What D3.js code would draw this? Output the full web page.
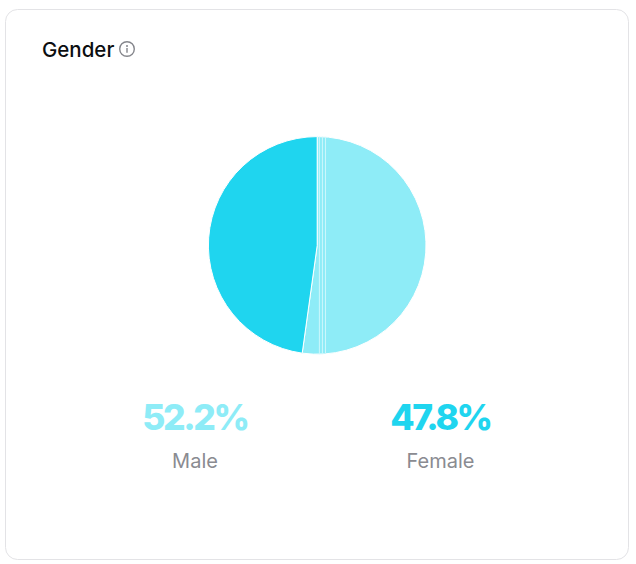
<!DOCTYPE html>
<html>
<head>
<meta charset="utf-8">
<script src="https://cdnjs.cloudflare.com/ajax/libs/d3/7.8.5/d3.min.js"></script>
<style>
html, body { margin: 0; padding: 0; background: #fff; }
svg { display: block; }
</style>
</head>
<body>
<svg id="chart" width="636" height="564"></svg>
<script>
// data
const categories = ['Male', 'Female'];
const shares = [52.2, 47.8];
const labels = ['52.2%', '47.8%'];
const colors = ['#8eecf7', '#1fd5ef'];
// thin lighter bands inside the male slice, as % of the pie's width from the centre line
const bandOffsets = [1, 2.4, 3.8];

const W = 636, H = 564, R = 108.8, CX = 317.2, CY = 245.4;
var svg = d3.select('#chart');

// card
svg.append('rect')
	.attr('x', 5.5).attr('y', 9.5)
	.attr('width', 623).attr('height', 550)
	.attr('rx', 12)
	.style('fill', '#fff')
	.style('stroke', '#e3e3e6');

// title + info icon
svg.append('text')
	.attr('x', 42).attr('y', 57)
	.text('Gender')
	.style('font-family', 'Inter')
	.style('font-weight', 500)
	.style('font-size', '20.5px')
	.style('fill', '#0c0e10');

var info = svg.append('g').attr('transform', 'translate(127,49)');
info.append('circle').attr('r', 7.3).style('fill', 'none').style('stroke', '#85868c').style('stroke-width', 1.4);
info.append('circle').attr('cy', -3).attr('r', 1).style('fill', '#85868c');
info.append('line').attr('y1', -1).attr('y2', 3.8).style('stroke', '#85868c').style('stroke-width', 1.4);

// pie
var pie = d3.pie().sort(null).value(function(d) { return d; });
var arc = d3.arc().innerRadius(0).outerRadius(R);
var g = svg.append('g').attr('transform', 'translate(' + CX + ',' + CY + ')');

g.selectAll('path.slice')
	.data(pie(shares))
	.enter()
	.append('path')
	.attr('class', 'slice')
	.attr('d', arc)
	.style('fill', function(d, i) { return colors[i]; })
	.style('stroke', '#fff')
	.style('stroke-width', 1);

// bands, clipped to the circle
var xBand = d3.scaleLinear().domain([0, 100]).range([0, 2 * R]);
g.selectAll('line.band')
	.data(bandOffsets)
	.enter()
	.append('line')
	.attr('class', 'band')
	.attr('x1', function(d) { return xBand(d); })
	.attr('x2', function(d) { return xBand(d); })
	.attr('y1', function(d) { return -Math.sqrt(R * R - xBand(d) * xBand(d)); })
	.attr('y2', function(d) { return Math.sqrt(R * R - xBand(d) * xBand(d)); })
	.style('stroke', '#cdf7fc')
	.style('stroke-width', 1);

// labels
var xLabel = d3.scalePoint().domain(categories).range([195, 440.5]);

svg.selectAll('text.pct')
	.data(categories)
	.enter()
	.append('text')
	.attr('class', 'pct')
	.attr('x', function(d) { return xLabel(d); })
	.attr('y', 430)
	.attr('text-anchor', 'middle')
	.text(function(d, i) { return labels[i]; })
	.style('font-family', 'Inter')
	.style('font-weight', 800)
	.style('font-size', '35.5px')
	.style('letter-spacing', '-2.4px')
	.style('fill', function(d, i) { return colors[i]; });

svg.selectAll('text.cat')
	.data(categories)
	.enter()
	.append('text')
	.attr('class', 'cat')
	.attr('x', function(d) { return xLabel(d); })
	.attr('y', 467.5)
	.attr('text-anchor', 'middle')
	.text(function(d) { return d; })
	.style('font-family', 'Inter')
	.style('font-size', '20px')
	.style('fill', '#8a8b91');
</script>
</body>
</html>
